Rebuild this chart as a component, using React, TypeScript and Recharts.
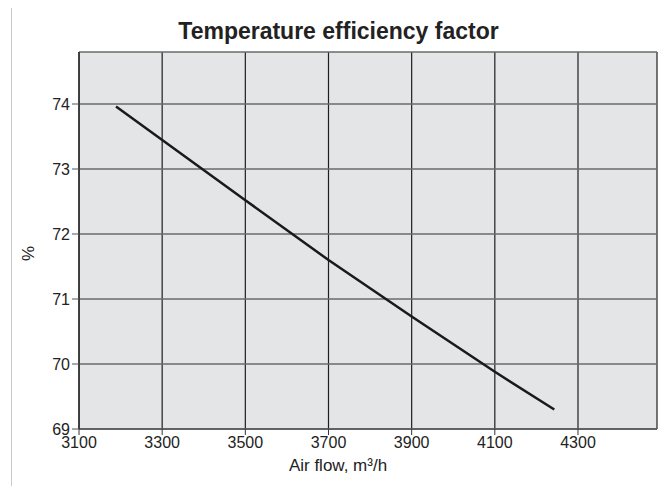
import {
  LineChart,
  Line,
  XAxis,
  YAxis,
  CartesianGrid,
  Label,
} from 'recharts';

// values
const airFlow = [3189, 3500, 3700, 3900, 4100, 4243];
const efficiency = [73.96, 72.52, 71.6, 70.73, 69.88, 69.3];
const xTicks = [3100, 3300, 3500, 3700, 3900, 4100, 4300];
const yTicks = [69, 70, 71, 72, 73, 74];

const data = airFlow.map((x, i) => ({ x, y: efficiency[i] }));

const FONT = '"Liberation Sans", Arial, sans-serif';
const tickStyle = { fontSize: 16, fill: '#222', fontFamily: FONT };

const XTitle = ({ viewBox }: any) => {
  if (!viewBox) return null;
  const cx = viewBox.x + viewBox.width / 2 - 30;
  return (
    <text x={cx} y={viewBox.y + 42} textAnchor="middle" fontSize={17} fill="#222" fontFamily={FONT}>
      Air flow, m³/h
    </text>
  );
};

const YTitle = ({ viewBox }: any) => {
  if (!viewBox) return null;
  const cx = viewBox.x - 1;
  const cy = viewBox.y + viewBox.height / 2 + 13;
  return (
    <text
      x={cx}
      y={cy}
      transform={`rotate(-90, ${cx}, ${cy})`}
      textAnchor="middle"
      dominantBaseline="central"
      fontSize={17}
      fill="#222"
      fontFamily={FONT}
    >
      %
    </text>
  );
};

export default function App() {
  return (
    <div style={{ position: 'relative', width: 672, height: 494, margin: -8, overflow: 'hidden', background: '#fff' }}>
      <div
        style={{
          position: 'absolute',
          left: 11,
          top: 3,
          width: 653,
          height: 520,
          border: '1px solid #cbcbcb',
        }}
      />
      <div
        style={{
          position: 'absolute',
          left: 11,
          top: 20,
          width: 655,
          textAlign: 'center',
          fontFamily: FONT,
          fontWeight: 'bold',
          fontSize: 23,
          lineHeight: '23px',
          color: '#222',
        }}
      >
        Temperature efficiency factor
      </div>
      <div style={{ position: 'absolute', left: 0, top: 0 }}>
        <LineChart
          width={672}
          height={494}
          data={data}
          margin={{ top: 52, right: 15, bottom: 35, left: 29 }}
        >
          <CartesianGrid
            horizontal={false}
            fill="#e4e5e7"
            stroke="#1e1e1e"
            strokeWidth={1.2}
          />
          <CartesianGrid vertical={false} stroke="#6a6a6a" strokeWidth={1.5} />
          <XAxis
            type="number"
            dataKey="x"
            domain={[3100, 4490]}
            ticks={xTicks}
            allowDataOverflow
            height={30}
            tickSize={6}
            tick={tickStyle}
            tickLine={{ stroke: '#333' }}
            axisLine={{ stroke: '#555', strokeWidth: 1.5 }}
          >
            <Label content={<XTitle />} />
          </XAxis>
          <YAxis
            type="number"
            dataKey="y"
            domain={[69, 74.8]}
            ticks={yTicks}
            allowDataOverflow
            width={50}
            tickSize={7}
            tick={tickStyle}
            tickLine={{ stroke: '#555' }}
            axisLine={{ stroke: '#1e1e1e', strokeWidth: 1.2 }}
          >
            <Label content={<YTitle />} />
          </YAxis>
          <Line
            type="linear"
            dataKey="y"
            stroke="#1a1a1a"
            strokeWidth={2.5}
            dot={false}
            isAnimationActive={false}
          />
        </LineChart>
      </div>
    </div>
  );
}
